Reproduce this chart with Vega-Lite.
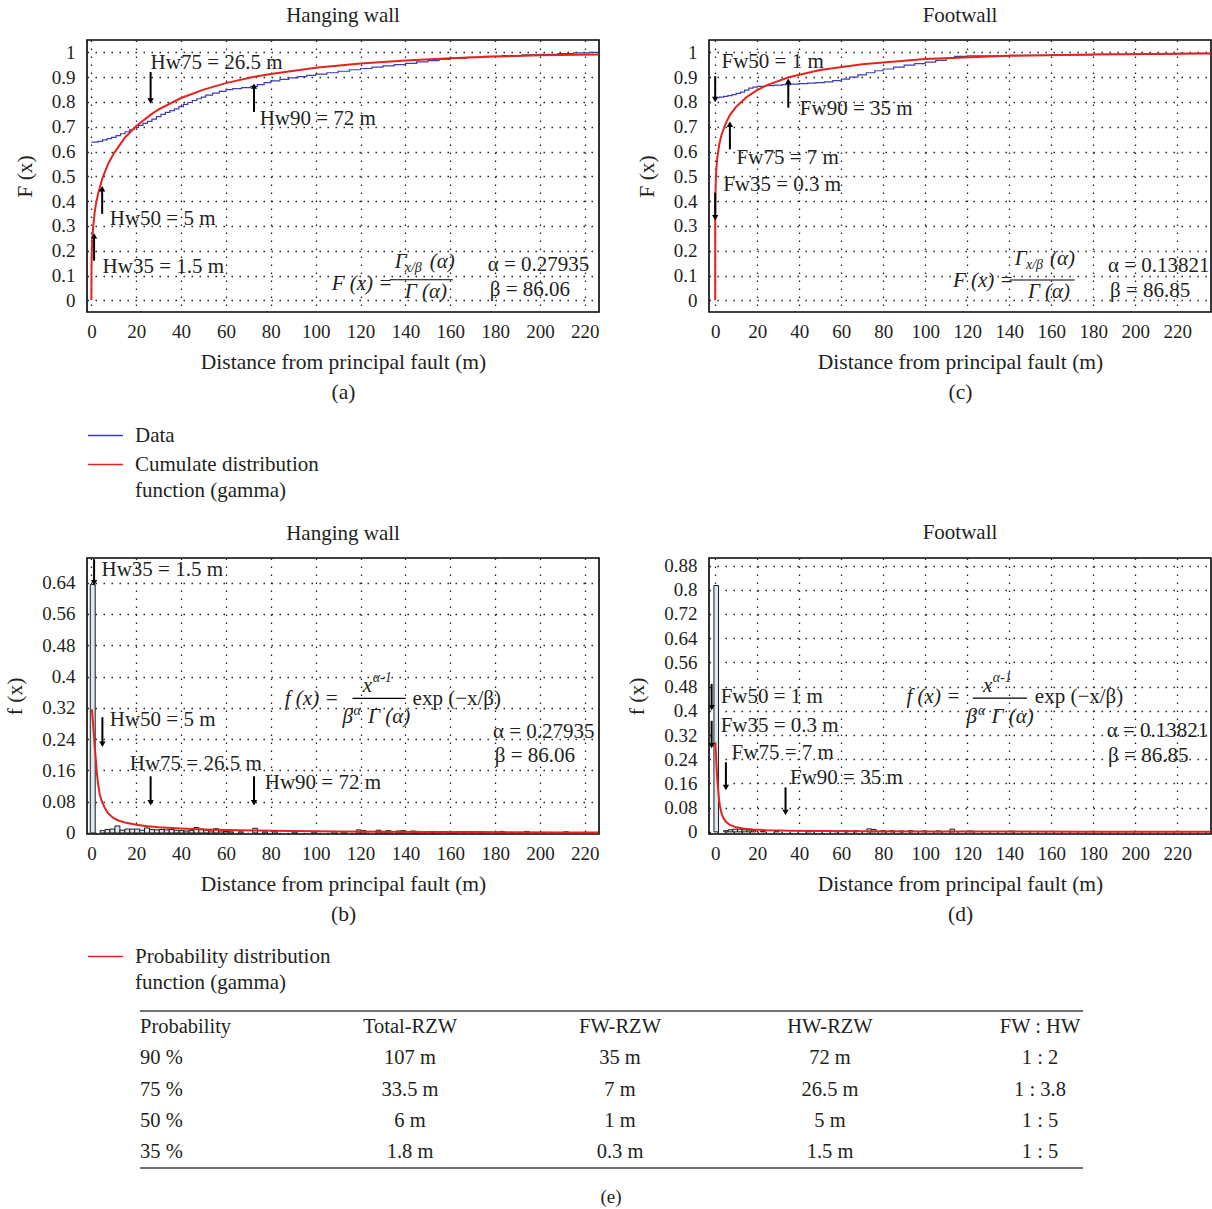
{
  "$schema": "https://vega.github.io/schema/vega-lite/v6.json",
  "padding": {"left": 3, "top": 4, "right": 0, "bottom": 0},
  "background": "white",
  "columns": 2,
  "spacing": {"row": 246, "column": 110},
  "bounds": "flush",
  "resolve": {"scale": {"x": "independent", "y": "independent", "color": "independent", "shape": "independent"}, "legend": {"color": "independent"}},
  "config": {
    "font": "Liberation Serif",
    "view": {"stroke": "#000", "strokeWidth": 1.6},
    "title": {"font": "Liberation Serif", "fontSize": 21, "fontWeight": "normal", "color": "#231f20", "offset": 14},
    "text": {"font": "Liberation Serif", "color": "#231f20"},
    "style": {"guide-label": {"lineHeight": 26}},
    "axis": {"labelFont": "Liberation Serif", "labelFontSize": 19, "labelColor": "#231f20", "titleFont": "Liberation Serif", "titleFontSize": 21.5, "titleFontWeight": "normal", "titleColor": "#231f20", "domain": false, "ticks": false, "tickSize": 0, "grid": true, "gridColor": "#222", "gridDash": [1.5, 6.5], "gridWidth": 1.3, "gridOpacity": 1, "labelOverlap": false, "labelFlush": false},
    "axisX": {"labelPadding": 10, "titlePadding": 10, "titleLineHeight": 30},
    "axisY": {"labelPadding": 12, "titlePadding": 15},
    "legend": {"labelFont": "Liberation Serif", "labelFontSize": 21, "labelColor": "#231f20", "labelLimit": 500}
  },
  "datasets": {
    "a_data": [{"x":0,"y":0.638},{"x":3,"y":0.641},{"x":5,"y":0.647},{"x":7,"y":0.652},{"x":9,"y":0.657},{"x":11,"y":0.664},{"x":13,"y":0.672},{"x":15,"y":0.68},{"x":17,"y":0.688},{"x":19,"y":0.697},{"x":21,"y":0.706},{"x":23,"y":0.714},{"x":25,"y":0.722},{"x":27,"y":0.731},{"x":29,"y":0.741},{"x":31,"y":0.75},{"x":33,"y":0.758},{"x":35,"y":0.765},{"x":37,"y":0.772},{"x":39,"y":0.781},{"x":41,"y":0.79},{"x":43,"y":0.798},{"x":45,"y":0.806},{"x":47,"y":0.813},{"x":49,"y":0.82},{"x":51,"y":0.828},{"x":54,"y":0.836},{"x":57,"y":0.843},{"x":60,"y":0.85},{"x":63,"y":0.854},{"x":67,"y":0.858},{"x":71,"y":0.863},{"x":74,"y":0.87},{"x":77,"y":0.878},{"x":80,"y":0.885},{"x":84,"y":0.891},{"x":88,"y":0.897},{"x":92,"y":0.902},{"x":96,"y":0.907},{"x":100,"y":0.912},{"x":105,"y":0.918},{"x":110,"y":0.924},{"x":115,"y":0.93},{"x":120,"y":0.935},{"x":125,"y":0.941},{"x":130,"y":0.946},{"x":135,"y":0.951},{"x":140,"y":0.956},{"x":145,"y":0.962},{"x":150,"y":0.967},{"x":155,"y":0.972},{"x":160,"y":0.976},{"x":167,"y":0.98},{"x":175,"y":0.984},{"x":183,"y":0.987},{"x":192,"y":0.99},{"x":200,"y":0.992},{"x":208,"y":0.995},{"x":215,"y":0.998},{"x":222,"y":1.0},{"x":226,"y":1.0}],
    "a_gamma": [{"x":0,"y":0},{"x":0.05,"y":0.138},{"x":0.2,"y":0.204},{"x":0.5,"y":0.263},{"x":1,"y":0.316},{"x":1.5,"y":0.357},{"x":2,"y":0.387},{"x":3,"y":0.431},{"x":5,"y":0.495},{"x":7.5,"y":0.551},{"x":10,"y":0.593},{"x":15,"y":0.657},{"x":20,"y":0.703},{"x":26.5,"y":0.749},{"x":30,"y":0.77},{"x":40,"y":0.816},{"x":50,"y":0.85},{"x":60,"y":0.876},{"x":72,"y":0.901},{"x":80,"y":0.913},{"x":100,"y":0.938},{"x":120,"y":0.955},{"x":140,"y":0.967},{"x":160,"y":0.976},{"x":180,"y":0.983},{"x":200,"y":0.988},{"x":226,"y":0.992}],
    "a_text": [{"x":26.4,"y":0.957,"t":"Hw75 = 26.5 m"},{"x":75,"y":0.731,"t":"Hw90 = 72 m"},{"x":8.2,"y":0.329,"t":"Hw50 = 5 m"},{"x":5,"y":0.136,"t":"Hw35 = 1.5 m"},{"x":176.7,"y":0.141,"t":"α = 0.27935"},{"x":177.6,"y":0.04,"t":"β = 86.06"}],
    "a_math": [{"x":107.1,"y":0.065,"t":"F (x) ="},{"x":135.2,"y":0.156,"t":"Γ"},{"x":150.8,"y":0.156,"t":"(α)"},{"x":139.7,"y":0.035,"t":"Γ (α)"}],
    "a_small": [{"x":139.7,"y":0.132,"t":"x/β"}],
    "a_frac": [{"x":133,"x2":161.1,"y":0.083}],
    "a_arrows": [{"x":26.4,"y":0.921,"y2":0.804,"dir":"down"},{"x":72.5,"y":0.76,"y2":0.864,"dir":"up"},{"x":4.8,"y":0.349,"y2":0.45,"dir":"up"},{"x":1.2,"y":0.16,"y2":0.26,"dir":"up"}],
    "c_data": [{"x":0,"y":0.817},{"x":2,"y":0.82},{"x":4,"y":0.823},{"x":6,"y":0.826},{"x":8,"y":0.83},{"x":10,"y":0.835},{"x":12,"y":0.84},{"x":14,"y":0.848},{"x":16,"y":0.856},{"x":18,"y":0.86},{"x":20,"y":0.863},{"x":24,"y":0.866},{"x":28,"y":0.868},{"x":32,"y":0.87},{"x":36,"y":0.872},{"x":40,"y":0.874},{"x":44,"y":0.876},{"x":48,"y":0.878},{"x":52,"y":0.881},{"x":56,"y":0.886},{"x":60,"y":0.892},{"x":64,"y":0.9},{"x":68,"y":0.909},{"x":72,"y":0.918},{"x":76,"y":0.926},{"x":80,"y":0.933},{"x":85,"y":0.941},{"x":90,"y":0.949},{"x":95,"y":0.955},{"x":100,"y":0.961},{"x":105,"y":0.968},{"x":110,"y":0.976},{"x":114,"y":0.984},{"x":120,"y":0.986},{"x":140,"y":0.988},{"x":160,"y":0.99},{"x":180,"y":0.992},{"x":200,"y":0.994},{"x":220,"y":0.996},{"x":236,"y":0.997}],
    "c_gamma": [{"x":0,"y":0},{"x":0.005,"y":0.277},{"x":0.02,"y":0.335},{"x":0.05,"y":0.38},{"x":0.1,"y":0.419},{"x":0.3,"y":0.487},{"x":0.5,"y":0.523},{"x":1,"y":0.575},{"x":2,"y":0.632},{"x":3,"y":0.667},{"x":5,"y":0.714},{"x":7,"y":0.747},{"x":10,"y":0.781},{"x":15,"y":0.82},{"x":20,"y":0.848},{"x":25,"y":0.869},{"x":35,"y":0.9},{"x":50,"y":0.929},{"x":70,"y":0.952},{"x":100,"y":0.973},{"x":140,"y":0.986},{"x":180,"y":0.992},{"x":236,"y":0.996}],
    "c_text": [{"x":3,"y":0.961,"t":"Fw50 = 1 m"},{"x":40.3,"y":0.77,"t":"Fw90 = 35 m"},{"x":10.2,"y":0.575,"t":"Fw75 = 7 m"},{"x":3.8,"y":0.465,"t":"Fw35 = 0.3 m"},{"x":187,"y":0.138,"t":"α = 0.13821"},{"x":188,"y":0.0375,"t":"β = 86.85"}],
    "c_math": [{"x":113.2,"y":0.08,"t":"F (x) ="},{"x":142.7,"y":0.165,"t":"Γ"},{"x":159.4,"y":0.165,"t":"(α)"},{"x":148.9,"y":0.032,"t":"Γ (α)"}],
    "c_small": [{"x":148,"y":0.141,"t":"x/β"}],
    "c_frac": [{"x":140.3,"x2":171.2,"y":0.082}],
    "c_arrows": [{"x":0,"y":0.904,"y2":0.81,"dir":"down"},{"x":34.8,"y":0.777,"y2":0.884,"dir":"up"},{"x":7,"y":0.609,"y2":0.71,"dir":"up"},{"x":0,"y":0.434,"y2":0.333,"dir":"down"}],
    "b_bars": [{"x":-0.5,"x2":1.7,"y":0.635},{"x":3.9,"x2":6.1,"y":0.006},{"x":6.1,"x2":8.3,"y":0.009},{"x":8.3,"x2":10.5,"y":0.01},{"x":10.5,"x2":12.7,"y":0.018},{"x":12.7,"x2":14.9,"y":0.007},{"x":14.9,"x2":17.1,"y":0.01},{"x":17.1,"x2":19.3,"y":0.01},{"x":19.3,"x2":21.5,"y":0.01},{"x":21.5,"x2":23.7,"y":0.007},{"x":23.7,"x2":25.9,"y":0.013},{"x":25.9,"x2":28.1,"y":0.009},{"x":28.1,"x2":30.3,"y":0.008},{"x":30.3,"x2":32.5,"y":0.009},{"x":32.5,"x2":34.7,"y":0.008},{"x":34.7,"x2":36.9,"y":0.009},{"x":36.9,"x2":39.1,"y":0.007},{"x":39.1,"x2":41.3,"y":0.006},{"x":41.3,"x2":43.5,"y":0.005},{"x":43.5,"x2":45.7,"y":0.006},{"x":45.7,"x2":47.9,"y":0.014},{"x":47.9,"x2":50.1,"y":0.01},{"x":50.1,"x2":52.3,"y":0.007},{"x":52.3,"x2":54.5,"y":0.005},{"x":54.5,"x2":56.7,"y":0.011},{"x":56.7,"x2":58.9,"y":0.005},{"x":58.9,"x2":61.1,"y":0.004},{"x":61.1,"x2":63.3,"y":0.003},{"x":65.5,"x2":67.7,"y":0.003},{"x":71.9,"x2":74.1,"y":0.012},{"x":76.3,"x2":78.5,"y":0.003},{"x":80.7,"x2":82.9,"y":0.004},{"x":89.5,"x2":91.7,"y":0.003},{"x":98.3,"x2":100.5,"y":0.003},{"x":107.1,"x2":109.3,"y":0.004},{"x":111.5,"x2":113.7,"y":0.003},{"x":118.1,"x2":120.3,"y":0.008},{"x":120.3,"x2":122.5,"y":0.006},{"x":126.9,"x2":129.1,"y":0.007},{"x":129.1,"x2":131.3,"y":0.004},{"x":131.3,"x2":133.5,"y":0.006},{"x":135.7,"x2":137.9,"y":0.005},{"x":137.9,"x2":140.1,"y":0.006},{"x":142.3,"x2":144.5,"y":0.005},{"x":144.5,"x2":146.7,"y":0.004},{"x":151.1,"x2":153.3,"y":0.004},{"x":159.9,"x2":162.1,"y":0.003},{"x":173.1,"x2":175.3,"y":0.003},{"x":181.9,"x2":184.1,"y":0.004},{"x":192.9,"x2":195.1,"y":0.004},{"x":210.5,"x2":212.7,"y":0.003}],
    "b_pdf": [{"x":0.25,"y":0.316},{"x":0.6,"y":0.29},{"x":1,"y":0.26},{"x":1.4,"y":0.228},{"x":1.8,"y":0.2},{"x":2.5,"y":0.15},{"x":3,"y":0.125},{"x":3.7,"y":0.099},{"x":4.5,"y":0.083},{"x":5.9,"y":0.065},{"x":7.5,"y":0.05},{"x":9.6,"y":0.039},{"x":12,"y":0.032},{"x":15,"y":0.027},{"x":20,"y":0.021},{"x":25,"y":0.017},{"x":30,"y":0.0145},{"x":40,"y":0.0112},{"x":50,"y":0.009},{"x":60,"y":0.0075},{"x":72,"y":0.0063},{"x":90,"y":0.005},{"x":110,"y":0.004},{"x":130,"y":0.0033},{"x":150,"y":0.0027},{"x":170,"y":0.0022},{"x":190,"y":0.0017},{"x":210,"y":0.0013},{"x":226,"y":0.001}],
    "b_text": [{"x":4.5,"y":0.672,"t":"Hw35 = 1.5 m"},{"x":8.2,"y":0.29,"t":"Hw50 = 5 m"},{"x":17.1,"y":0.177,"t":"Hw75 = 26.5 m"},{"x":77.3,"y":0.128,"t":"Hw90 = 72 m"},{"x":143.2,"y":0.342,"t":"exp (−x/β)"},{"x":179,"y":0.257,"t":"α = 0.27935"},{"x":179.8,"y":0.197,"t":"β = 86.06"}],
    "b_math": [{"x":86.2,"y":0.342,"t":"f (x) ="},{"x":121,"y":0.376,"t":"x"},{"x":112,"y":0.296,"t":"β"},{"x":123.3,"y":0.296,"t":"Γ (α)"}],
    "b_small": [{"x":125.4,"y":0.395,"t":"α-1"},{"x":116.9,"y":0.313,"t":"α"}],
    "b_frac": [{"x":116.4,"x2":140.1,"y":0.344}],
    "b_arrows": [{"x":1.2,"y":0.70,"y2":0.64,"dir":"down"},{"x":4.9,"y":0.296,"y2":0.227,"dir":"down"},{"x":26.4,"y":0.145,"y2":0.077,"dir":"down"},{"x":72.5,"y":0.145,"y2":0.077,"dir":"down"}],
    "d_bars": [{"x":-0.6,"x2":1.6,"y":0.814},{"x":4,"x2":6.2,"y":0.004},{"x":6.2,"x2":8.4,"y":0.007},{"x":8.4,"x2":10.6,"y":0.009},{"x":10.6,"x2":12.8,"y":0.009},{"x":12.8,"x2":15,"y":0.007},{"x":15,"x2":17.2,"y":0.006},{"x":17.2,"x2":19.4,"y":0.004},{"x":21.6,"x2":23.8,"y":0.002},{"x":28.2,"x2":30.4,"y":0.002},{"x":43.6,"x2":45.8,"y":0.003},{"x":56.8,"x2":59,"y":0.003},{"x":61.2,"x2":63.4,"y":0.004},{"x":65.6,"x2":67.8,"y":0.004},{"x":72.2,"x2":74.4,"y":0.01},{"x":74.4,"x2":76.6,"y":0.008},{"x":78.8,"x2":81,"y":0.004},{"x":83.2,"x2":85.4,"y":0.004},{"x":87.6,"x2":89.8,"y":0.003},{"x":92,"x2":94.2,"y":0.004},{"x":98.6,"x2":100.8,"y":0.003},{"x":105.2,"x2":107.4,"y":0.003},{"x":111.8,"x2":114,"y":0.009},{"x":120.6,"x2":122.8,"y":0.003},{"x":140.4,"x2":142.6,"y":0.002}],
    "d_pdf": [{"x":0.05,"y":0.296},{"x":0.4,"y":0.25},{"x":0.7,"y":0.21},{"x":1,"y":0.175},{"x":1.4,"y":0.14},{"x":1.8,"y":0.11},{"x":2.2,"y":0.088},{"x":3,"y":0.062},{"x":3.8,"y":0.047},{"x":5,"y":0.034},{"x":7,"y":0.023},{"x":10,"y":0.015},{"x":13.3,"y":0.011},{"x":18,"y":0.008},{"x":24.5,"y":0.0055},{"x":35,"y":0.004},{"x":50,"y":0.003},{"x":70,"y":0.0022},{"x":100,"y":0.0015},{"x":140,"y":0.001},{"x":180,"y":0.0007},{"x":236,"y":0.0005}],
    "d_text": [{"x":2.6,"y":0.445,"t":"Fw50 = 1 m"},{"x":2.6,"y":0.351,"t":"Fw35 = 0.3 m"},{"x":7.8,"y":0.26,"t":"Fw75 = 7 m"},{"x":35.6,"y":0.178,"t":"Fw90 = 35 m"},{"x":152.2,"y":0.445,"t":"exp (−x/β)"},{"x":186.4,"y":0.334,"t":"α = 0.13821"},{"x":187.1,"y":0.252,"t":"β = 86.85"}],
    "d_math": [{"x":91.1,"y":0.445,"t":"f (x) ="},{"x":127.5,"y":0.483,"t":"x"},{"x":119.7,"y":0.378,"t":"β"},{"x":131.6,"y":0.378,"t":"Γ (α)"}],
    "d_small": [{"x":132.2,"y":0.507,"t":"α-1"},{"x":125.2,"y":0.4,"t":"α"}],
    "d_frac": [{"x":122.7,"x2":148.4,"y":0.442}],
    "d_arrows": [{"x":-1.7,"y":0.489,"y2":0.41,"dir":"down"},{"x":-1.7,"y":0.367,"y2":0.285,"dir":"down"},{"x":5.1,"y":0.23,"y2":0.147,"dir":"down"},{"x":33.5,"y":0.147,"y2":0.064,"dir":"down"}],
    "table": [
      {"row":"header","col":"Probability","v":"Probability"},{"row":"header","col":"Total-RZW","v":"Total-RZW"},{"row":"header","col":"FW-RZW","v":"FW-RZW"},{"row":"header","col":"HW-RZW","v":"HW-RZW"},{"row":"header","col":"FW : HW","v":"FW : HW"},
      {"row":"90 %","col":"Probability","v":"90 %"},{"row":"90 %","col":"Total-RZW","v":"107 m"},{"row":"90 %","col":"FW-RZW","v":"35 m"},{"row":"90 %","col":"HW-RZW","v":"72 m"},{"row":"90 %","col":"FW : HW","v":"1 : 2"},
      {"row":"75 %","col":"Probability","v":"75 %"},{"row":"75 %","col":"Total-RZW","v":"33.5 m"},{"row":"75 %","col":"FW-RZW","v":"7 m"},{"row":"75 %","col":"HW-RZW","v":"26.5 m"},{"row":"75 %","col":"FW : HW","v":"1 : 3.8"},
      {"row":"50 %","col":"Probability","v":"50 %"},{"row":"50 %","col":"Total-RZW","v":"6 m"},{"row":"50 %","col":"FW-RZW","v":"1 m"},{"row":"50 %","col":"HW-RZW","v":"5 m"},{"row":"50 %","col":"FW : HW","v":"1 : 5"},
      {"row":"35 %","col":"Probability","v":"35 %"},{"row":"35 %","col":"Total-RZW","v":"1.8 m"},{"row":"35 %","col":"FW-RZW","v":"0.3 m"},{"row":"35 %","col":"HW-RZW","v":"1.5 m"},{"row":"35 %","col":"FW : HW","v":"1 : 5"}
    ]
  },
  "concat": [
    {
      "width": 512, "height": 272,
      "title": "Hanging wall",
      "encoding": {
        "x": {"field": "x", "type": "quantitative", "scale": {"domain": [-1.96, 226.3], "nice": false, "zero": false}, "axis": {"values": [0,20,40,60,80,100,120,140,160,180,200,220], "title": ["Distance from principal fault (m)", "(a)"]}},
        "y": {"field": "y", "type": "quantitative", "scale": {"domain": [-0.047, 1.05], "nice": false, "zero": false}, "axis": {"values": [0,0.1,0.2,0.3,0.4,0.5,0.6,0.7,0.8,0.9,1], "format": ".2~f", "title": "F (x)"}}
      },
      "layer": [
        {"data": {"name": "a_data"}, "mark": {"type": "line", "interpolate": "step-after", "strokeWidth": 1.2},
         "encoding": {"color": {"datum": "Data", "type": "nominal", "scale": {"domain": ["Data", "Cumulate distribution function (gamma)"], "range": ["#3d3db3", "#e3241d"]},
           "legend": {"orient": "none", "legendX": 0, "legendY": 377, "title": null, "symbolType": "stroke", "symbolSize": 1225, "symbolStrokeWidth": 1.3, "labelOffset": 11, "rowPadding": 0, "padding": 0,
             "labelExpr": "datum.label == 'Data' ? 'Data' : ['Cumulate distribution', 'function (gamma)']"}}}},
        {"data": {"name": "a_gamma"}, "mark": {"type": "line", "strokeWidth": 2}, "encoding": {"color": {"datum": "Cumulate distribution function (gamma)", "type": "nominal"}}},
        {"data": {"name": "a_arrows"}, "mark": {"type": "rule", "strokeWidth": 2, "color": "#000"}, "encoding": {"y2": {"field": "y2"}}},
        {"data": {"name": "a_arrows"}, "mark": {"type": "point", "filled": true, "size": 40, "color": "#000", "opacity": 1}, "encoding": {"y": {"field": "y2", "type": "quantitative"}, "shape": {"field": "dir", "type": "nominal", "scale": {"domain": ["up", "down"], "range": ["triangle-up", "triangle-down"]}, "legend": null}}},
        {"data": {"name": "a_text"}, "mark": {"type": "text", "align": "left", "fontSize": 21}, "encoding": {"text": {"field": "t"}}},
        {"data": {"name": "a_math"}, "mark": {"type": "text", "align": "left", "fontSize": 21, "fontStyle": "italic"}, "encoding": {"text": {"field": "t"}}},
        {"data": {"name": "a_small"}, "mark": {"type": "text", "align": "left", "fontSize": 14, "fontStyle": "italic"}, "encoding": {"text": {"field": "t"}}},
        {"data": {"name": "a_frac"}, "mark": {"type": "rule", "strokeWidth": 1.2, "color": "#000"}, "encoding": {"x2": {"field": "x2"}}}
      ]
    },
    {
      "width": 502, "height": 272,
      "title": "Footwall",
      "encoding": {
        "x": {"field": "x", "type": "quantitative", "scale": {"domain": [-2.95, 236.1], "nice": false, "zero": false}, "axis": {"values": [0,20,40,60,80,100,120,140,160,180,200,220], "title": ["Distance from principal fault (m)", "(c)"]}},
        "y": {"field": "y", "type": "quantitative", "scale": {"domain": [-0.047, 1.05], "nice": false, "zero": false}, "axis": {"values": [0,0.1,0.2,0.3,0.4,0.5,0.6,0.7,0.8,0.9,1], "format": ".2~f", "title": "F (x)"}}
      },
      "layer": [
        {"data": {"name": "c_data"}, "mark": {"type": "line", "interpolate": "step-after", "strokeWidth": 1.2},
         "encoding": {"color": {"datum": "Data", "type": "nominal", "scale": {"domain": ["Data", "Cumulate distribution function (gamma)"], "range": ["#3d3db3", "#e3241d"]}, "legend": null}}},
        {"data": {"name": "c_gamma"}, "mark": {"type": "line", "strokeWidth": 2}, "encoding": {"color": {"datum": "Cumulate distribution function (gamma)", "type": "nominal"}}},
        {"data": {"name": "c_arrows"}, "mark": {"type": "rule", "strokeWidth": 2, "color": "#000"}, "encoding": {"y2": {"field": "y2"}}},
        {"data": {"name": "c_arrows"}, "mark": {"type": "point", "filled": true, "size": 40, "color": "#000", "opacity": 1}, "encoding": {"y": {"field": "y2", "type": "quantitative"}, "shape": {"field": "dir", "type": "nominal", "scale": {"domain": ["up", "down"], "range": ["triangle-up", "triangle-down"]}, "legend": null}}},
        {"data": {"name": "c_text"}, "mark": {"type": "text", "align": "left", "fontSize": 21}, "encoding": {"text": {"field": "t"}}},
        {"data": {"name": "c_math"}, "mark": {"type": "text", "align": "left", "fontSize": 21, "fontStyle": "italic"}, "encoding": {"text": {"field": "t"}}},
        {"data": {"name": "c_small"}, "mark": {"type": "text", "align": "left", "fontSize": 14, "fontStyle": "italic"}, "encoding": {"text": {"field": "t"}}},
        {"data": {"name": "c_frac"}, "mark": {"type": "rule", "strokeWidth": 1.2, "color": "#000"}, "encoding": {"x2": {"field": "x2"}}}
      ]
    },
    {
      "width": 512, "height": 276,
      "title": "Hanging wall",
      "encoding": {
        "x": {"field": "x", "type": "quantitative", "scale": {"domain": [-1.96, 226.3], "nice": false, "zero": false}, "axis": {"values": [0,20,40,60,80,100,120,140,160,180,200,220], "title": ["Distance from principal fault (m)", "(b)"]}},
        "y": {"field": "y", "type": "quantitative", "scale": {"domain": [-0.0026, 0.703], "nice": false, "zero": false}, "axis": {"values": [0,0.08,0.16,0.24,0.32,0.4,0.48,0.56,0.64], "format": ".2~f", "title": "f (x)"}}
      },
      "layer": [
        {"data": {"name": "b_bars"}, "mark": {"type": "rect", "fill": "#dce8f4", "stroke": "#1a1a1a", "strokeWidth": 1}, "encoding": {"x2": {"field": "x2"}, "y2": {"datum": 0}}},
        {"data": {"name": "b_pdf"}, "mark": {"type": "line", "strokeWidth": 2},
         "encoding": {"color": {"datum": "Probability distribution function (gamma)", "type": "nominal", "scale": {"domain": ["Probability distribution function (gamma)"], "range": ["#e3241d"]},
           "legend": {"orient": "none", "legendX": 0, "legendY": 380, "title": null, "symbolType": "stroke", "symbolSize": 1225, "symbolStrokeWidth": 1.3, "labelOffset": 11, "padding": 0,
             "labelExpr": "['Probability distribution', 'function (gamma)']"}}}},
        {"data": {"name": "b_arrows"}, "mark": {"type": "rule", "strokeWidth": 2, "color": "#000"}, "encoding": {"y2": {"field": "y2"}}},
        {"data": {"name": "b_arrows"}, "mark": {"type": "point", "filled": true, "size": 40, "color": "#000", "opacity": 1}, "encoding": {"y": {"field": "y2", "type": "quantitative"}, "shape": {"field": "dir", "type": "nominal", "scale": {"domain": ["up", "down"], "range": ["triangle-up", "triangle-down"]}, "legend": null}}},
        {"data": {"name": "b_text"}, "mark": {"type": "text", "align": "left", "fontSize": 21}, "encoding": {"text": {"field": "t"}}},
        {"data": {"name": "b_math"}, "mark": {"type": "text", "align": "left", "fontSize": 21, "fontStyle": "italic"}, "encoding": {"text": {"field": "t"}}},
        {"data": {"name": "b_small"}, "mark": {"type": "text", "align": "left", "fontSize": 14, "fontStyle": "italic"}, "encoding": {"text": {"field": "t"}}},
        {"data": {"name": "b_frac"}, "mark": {"type": "rule", "strokeWidth": 1.2, "color": "#000"}, "encoding": {"x2": {"field": "x2"}}}
      ]
    },
    {
      "width": 502, "height": 276,
      "title": "Footwall",
      "encoding": {
        "x": {"field": "x", "type": "quantitative", "scale": {"domain": [-2.95, 236.1], "nice": false, "zero": false}, "axis": {"values": [0,20,40,60,80,100,120,140,160,180,200,220], "title": ["Distance from principal fault (m)", "(d)"]}},
        "y": {"field": "y", "type": "quantitative", "scale": {"domain": [-0.007, 0.905], "nice": false, "zero": false}, "axis": {"values": [0,0.08,0.16,0.24,0.32,0.4,0.48,0.56,0.64,0.72,0.8,0.88], "format": ".2~f", "title": "f (x)"}}
      },
      "layer": [
        {"data": {"name": "d_bars"}, "mark": {"type": "rect", "fill": "#dce8f4", "stroke": "#1a1a1a", "strokeWidth": 1}, "encoding": {"x2": {"field": "x2"}, "y2": {"datum": 0}}},
        {"data": {"name": "d_pdf"}, "mark": {"type": "line", "strokeWidth": 2, "color": "#e3241d"}},
        {"data": {"name": "d_arrows"}, "mark": {"type": "rule", "strokeWidth": 2, "color": "#000"}, "encoding": {"y2": {"field": "y2"}}},
        {"data": {"name": "d_arrows"}, "mark": {"type": "point", "filled": true, "size": 40, "color": "#000", "opacity": 1}, "encoding": {"y": {"field": "y2", "type": "quantitative"}, "shape": {"field": "dir", "type": "nominal", "scale": {"domain": ["up", "down"], "range": ["triangle-up", "triangle-down"]}, "legend": null}}},
        {"data": {"name": "d_text"}, "mark": {"type": "text", "align": "left", "fontSize": 21}, "encoding": {"text": {"field": "t"}}},
        {"data": {"name": "d_math"}, "mark": {"type": "text", "align": "left", "fontSize": 21, "fontStyle": "italic"}, "encoding": {"text": {"field": "t"}}},
        {"data": {"name": "d_small"}, "mark": {"type": "text", "align": "left", "fontSize": 14, "fontStyle": "italic"}, "encoding": {"text": {"field": "t"}}},
        {"data": {"name": "d_frac"}, "mark": {"type": "rule", "strokeWidth": 1.2, "color": "#000"}, "encoding": {"x2": {"field": "x2"}}}
      ]
    },
    {
      "width": 512, "height": 87,
      "view": {"stroke": null},
      "title": {"text": "(e)", "orient": "bottom", "anchor": "middle", "dx": 268, "offset": 19, "fontSize": 19},
      "data": {"name": "table"},
      "encoding": {
        "x": {"field": "col", "type": "nominal", "scale": {"type": "point", "padding": 0, "domain": ["Probability", "Total-RZW", "FW-RZW", "HW-RZW", "FW : HW"], "range": [113, 953]}, "axis": null},
        "y": {"field": "row", "type": "nominal", "scale": {"type": "point", "padding": 0, "domain": ["header", "90 %", "75 %", "50 %", "35 %"], "range": [-53, 72]}, "axis": null}
      },
      "layer": [
        {"transform": [{"filter": "datum.col != 'Probability'"}], "mark": {"type": "text", "align": "center", "fontSize": 20.5}, "encoding": {"text": {"field": "v"}}},
        {"transform": [{"filter": "datum.col == 'Probability'"}], "mark": {"type": "text", "align": "left", "fontSize": 20.5, "xOffset": -60}, "encoding": {"text": {"field": "v"}}},
        {"data": {"values": [{"line": "top"}]}, "mark": {"type": "rule", "strokeWidth": 1.6, "color": "#444", "xOffset": -60, "x2Offset": 43, "yOffset": -16},
         "encoding": {"x": {"datum": "Probability"}, "x2": {"datum": "FW : HW"}, "y": {"datum": "header"}}},
        {"data": {"values": [{"line": "bottom"}]}, "mark": {"type": "rule", "strokeWidth": 1.6, "color": "#444", "xOffset": -60, "x2Offset": 43, "yOffset": 16},
         "encoding": {"x": {"datum": "Probability"}, "x2": {"datum": "FW : HW"}, "y": {"datum": "35 %"}}}
      ]
    }
  ]
}
